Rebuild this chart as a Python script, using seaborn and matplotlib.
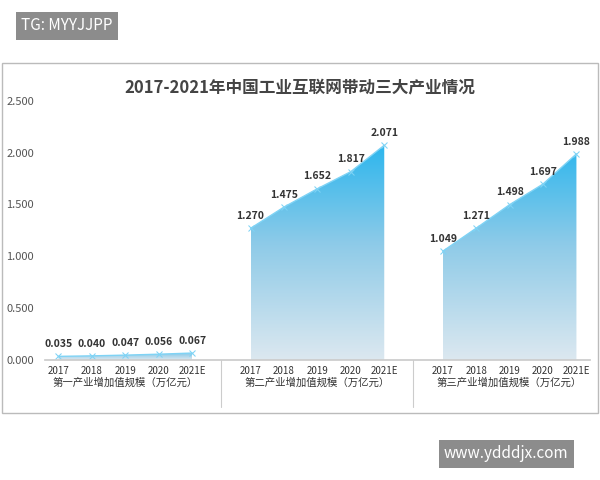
import numpy as np
import matplotlib
matplotlib.use("Agg")
import matplotlib.pyplot as plt
import seaborn as sns
from matplotlib.patches import Rectangle
from matplotlib.colors import LinearSegmentedColormap

years = ["2017", "2018", "2019", "2020", "2021E"]
groups = ["第一产业增加值规模（万亿元）", "第二产业增加值规模（万亿元）", "第三产业增加值规模（万亿元）"]
v1 = [0.035, 0.040, 0.047, 0.056, 0.067]
v2 = [1.270, 1.475, 1.652, 1.817, 2.071]
v3 = [1.049, 1.271, 1.498, 1.697, 1.988]
series = [v1, v2, v3]

sns.set_theme(style="white")
plt.rcParams['font.family'] = ['Noto Sans CJK SC', 'DejaVu Sans']

fig = plt.figure(figsize=(6, 4.8), dpi=100)
fig.patch.set_facecolor("white")
fig.add_artist(Rectangle((0.003, (480-413)/480), 0.994, 350/480, transform=fig.transFigure,
                         fill=False, edgecolor="#bbbbbb", lw=1))
ax = fig.add_axes([0.075, 0.25, 0.908, 0.54])
ax.set_facecolor("none")
ax.set_xlim(-0.4, 15.9)
ax.set_ylim(0, 2.5)
ax.set_yticks(np.arange(0, 2.51, 0.5))
ax.set_yticklabels([f"{t:.3f}" for t in np.arange(0, 2.51, 0.5)], fontsize=8, color="#555555")
ax.tick_params(axis="y", length=0, pad=8)
for s in ["top", "right", "left"]:
    ax.spines[s].set_visible(False)
ax.spines["bottom"].set_color("#cccccc")

spacing = 5.75
xt, xl = [], []
grad = np.linspace(0, 1, 256).reshape(-1, 1)
cmap = LinearSegmentedColormap.from_list("g", ["#dce8f0", "#8fcbe8", "#1fb3ee"])
for g, vals in enumerate(series):
    xs = np.arange(5) + g * spacing
    top = 2.2 if g else 0.12
    im = ax.imshow(grad, extent=[xs[0], xs[-1], 0, top], origin="lower", cmap=cmap,
                   aspect="auto", zorder=1)
    poly = ax.fill_between(xs, vals, 0, color="none")
    im.set_clip_path(poly.get_paths()[0], transform=ax.transData)
    sns.lineplot(x=xs, y=vals, ax=ax, color="#7fd3f5", lw=1, marker="x", markersize=4,
                 markeredgecolor="#7fd3f5", zorder=2)
    for x, v in zip(xs, vals):
        ax.text(x, v + 0.07, f"{v:.3f}", ha="center", va="bottom", fontsize=7.5,
                fontweight="bold", color="#333333")
    xt += list(xs); xl += years
    ax.text(xs[2], -0.17, groups[g], ha="center", va="top", fontsize=7.5, color="#333333")
    if g:
        sx = xs[0] - (spacing - 4) / 2
        ax.plot([sx, sx], [0, -0.45], color="#cccccc", lw=0.8, clip_on=False)
ax.set_xticks(xt)
ax.set_xticklabels(xl, fontsize=7, color="#333333")
ax.tick_params(axis="x", length=0, pad=4)

fig.text(0.5, 1 - 88/480, "2017-2021年中国工业互联网带动三大产业情况", ha="center", va="center",
         fontsize=12, fontweight="bold", color="#444444")
fig.text(0.035, 1 - 26/480, "TG: MYYJJPP", ha="left", va="center", fontsize=11, color="white",
         bbox=dict(boxstyle="square,pad=0.35", fc="#8c8c8c", ec="none"))
fig.text(0.74, 1 - 454/480, "www.ydddjx.com", ha="left", va="center", fontsize=11, color="white",
         bbox=dict(boxstyle="square,pad=0.35", fc="#8c8c8c", ec="none"))
fig.savefig("out.png", dpi=100)
